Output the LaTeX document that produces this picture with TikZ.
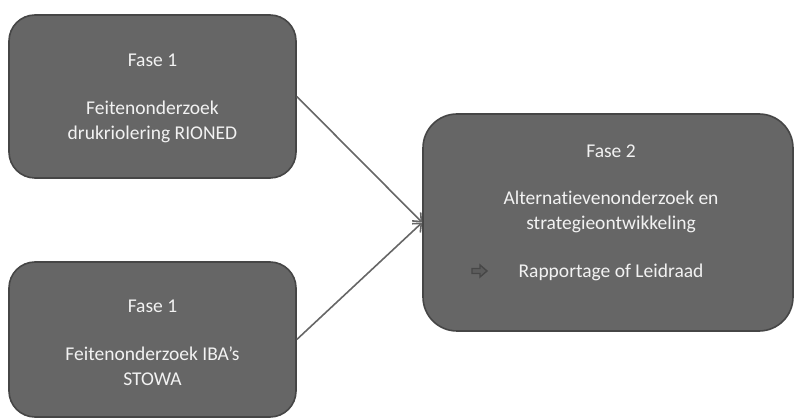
\documentclass[tikz,border=0pt]{standalone}
\usepackage{fontspec}
\setmainfont[Ligatures=NoCommon]{Carlito}
\usetikzlibrary{arrows.meta}
\definecolor{boxfill}{HTML}{666666}
\definecolor{boxline}{HTML}{464646}
\definecolor{txtcol}{HTML}{F2F2F2}
\definecolor{linkcol}{HTML}{666666}
\definecolor{symcol}{HTML}{474747}
\definecolor{symfill}{HTML}{5C5C5C}
\tikzset{
  phasebox/.style={draw=boxline, fill=boxfill, line width=1.6pt, inner sep=0pt},
  txt/.style={text=txtcol, align=center, font=\fontsize{19.5}{25}\selectfont, inner sep=0pt},
  link/.style={draw=linkcol, line width=1.6pt, -{Straight Barb[length=7pt,width=12pt,line width=1.6pt]}}
}
\begin{document}
\begin{tikzpicture}[x=1pt,y=-1pt]
\useasboundingbox (0,0) rectangle (795,419);
\node[phasebox, minimum width=287pt, minimum height=163pt, rounded corners=26pt] (b1) at (152.5,96.5) {};
\node[phasebox, minimum width=287pt, minimum height=155pt, rounded corners=26pt] (b2) at (152.5,339.5) {};
\node[phasebox, minimum width=370pt, minimum height=217pt, rounded corners=34pt] (b3) at (608,222.5) {};
\node[txt] (t1) at (152.5,98.5) {Fase 1\\[23pt]Feitenonderzoek\\drukriolering RIONED};
\node[txt] (t2) at (152.5,343) {Fase 1\\[23pt]Feitenonderzoek IBA’s\\STOWA};
\node[txt] (t3) at (611,213) {Fase 2\\[22pt]Alternatievenonderzoek en\\strategieontwikkeling\\[23pt]Rapportage of Leidraad};
\coordinate (arr) at (479.5,271);
\draw[draw=symcol, fill=symfill, line width=1.4pt, line join=miter]
  ([shift={(-7.5,-2.5)}]arr) -- ([shift={(0.5,-2.5)}]arr) -- ([shift={(0.5,-6)}]arr)
  -- ([shift={(7.5,0)}]arr) -- ([shift={(0.5,6)}]arr) -- ([shift={(0.5,2.5)}]arr)
  -- ([shift={(-7.5,2.5)}]arr) -- cycle;
\draw[link] (b1.east) -- (b3.west);
\draw[link] (b2.east) -- (b3.west);
\end{tikzpicture}
\end{document}
